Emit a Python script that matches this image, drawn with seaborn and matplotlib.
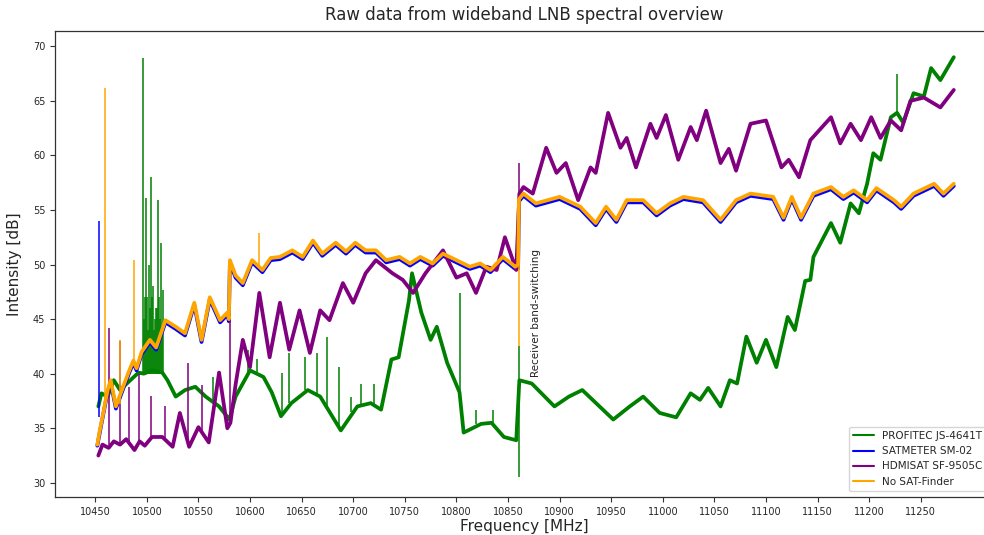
import matplotlib
matplotlib.use("Agg")
import matplotlib.pyplot as plt
import seaborn as sns
import pandas as pd

# ---------------- data ----------------
devices = ["PROFITEC JS-4641T", "SATMETER SM-02", "HDMISAT SF-9505C", "No SAT-Finder"]
colors = ["green", "blue", "purple", "orange"]

# main traces
green_freq = [10453, 10456, 10462, 10468, 10474, 10484, 10492, 10497, 10505, 10515,
              10520, 10528, 10537, 10547, 10557, 10570, 10580, 10586, 10600, 10613,
              10621, 10630, 10640, 10656, 10668, 10688, 10704, 10717, 10727, 10737,
              10744, 10754, 10757, 10766, 10775, 10781, 10791, 10803, 10807, 10824,
              10834, 10846, 10858, 10861,
              10873, 10895, 10909, 10922, 10932, 10952, 10968, 10981, 10997, 11013,
              11027, 11036, 11044, 11056, 11065, 11072, 11081, 11091, 11100, 11110,
              11121, 11128, 11138, 11143, 11146, 11163, 11172, 11182, 11190, 11198,
              11204, 11211, 11221, 11227, 11233, 11243, 11253, 11260, 11269, 11282]
green_level = [37.0, 38.2, 37.9, 39.4, 38.5, 39.4, 40.1, 40.0, 40.3, 40.1,
               39.4, 37.9, 38.5, 38.8, 37.9, 37.0, 35.8, 37.9, 40.3, 39.7,
               38.3, 36.1, 37.3, 38.5, 37.9, 34.8, 37.0, 37.3, 36.7, 41.3,
               41.5, 46.7, 49.2, 45.6, 43.1, 44.3, 41.0, 38.3, 34.6, 35.4,
               35.5, 34.2, 33.9, 39.4,
               39.1, 37.0, 37.9, 38.5, 37.6, 35.8, 37.0, 37.9, 36.4, 36.0,
               38.2, 37.6, 38.7, 37.0, 39.4, 39.1, 43.4, 41.0, 43.1, 40.6,
               45.2, 44.0, 48.5, 48.6, 50.7, 53.8, 52.0, 55.6, 54.7, 57.4,
               60.2, 59.6, 63.5, 63.9, 63.0, 65.7, 65.4, 68.0, 66.9, 69.0]

blue_freq = [10452, 10454, 10458, 10462, 10465, 10470, 10477, 10483, 10487, 10490,
             10495, 10503, 10509, 10518, 10528, 10537, 10546, 10553, 10561, 10571,
             10578, 10579.5, 10580.5, 10586, 10593, 10602, 10612, 10620, 10629, 10641,
             10651, 10661, 10670, 10683, 10693, 10702, 10712, 10722, 10732, 10745,
             10755, 10765, 10777, 10787, 10800, 10813, 10823, 10833, 10845, 10857,
             10859.8, 10860.6, 10865, 10877, 10900, 10920, 10935, 10945, 10955, 10965,
             10981, 10994, 11007, 11020, 11039, 11056, 11071, 11085, 11107, 11117,
             11125, 11134, 11146, 11163, 11175, 11185, 11198, 11207, 11224, 11231,
             11243, 11263, 11272, 11282]
blue_level = [33.4, 34.4, 36.4, 38.3, 39.2, 36.8, 38.6, 40.1, 41.0, 40.3,
              41.8, 42.9, 42.2, 44.7, 44.1, 43.5, 46.3, 42.9, 46.8, 44.7,
              45.4, 44.8, 50.2, 48.8, 48.1, 50.2, 49.3, 50.4, 50.5, 51.1,
              50.5, 52.0, 50.8, 51.8, 51.0, 51.8, 51.1, 51.1, 50.2, 50.5,
              49.9, 50.5, 49.9, 50.8, 50.2, 49.6, 49.9, 49.3, 50.5, 49.6,
              49.8, 55.8, 56.3, 55.4, 56.0, 55.1, 53.6, 55.1, 53.9, 55.7,
              55.7, 54.5, 55.4, 56.0, 55.7, 53.9, 55.7, 56.3, 56.0, 54.1,
              56.0, 54.1, 56.3, 56.9, 56.0, 56.6, 55.7, 56.8, 55.7, 55.1,
              56.3, 57.2, 56.3, 57.2]

purple_freq = [10453, 10457, 10463, 10468, 10474, 10480, 10488, 10493, 10498, 10505,
               10515, 10525, 10532, 10541, 10550, 10560, 10570, 10578, 10581,
               10586, 10593, 10600, 10609, 10619, 10629, 10638, 10648, 10658, 10668,
               10677, 10690, 10700, 10712, 10722, 10738, 10748, 10758, 10770, 10787,
               10800, 10810, 10819, 10829, 10839, 10847, 10858, 10861,
               10865, 10874, 10887, 10897, 10906, 10918, 10930, 10935, 10947, 10959,
               10965, 10974, 10988, 10994, 11003, 11015, 11027, 11033, 11042, 11056,
               11064, 11071, 11085, 11100, 11115, 11122, 11132, 11143, 11163, 11172,
               11182, 11192, 11202, 11211, 11221, 11231, 11240, 11253, 11269, 11282]
purple_level = [32.5, 33.5, 33.2, 33.8, 33.5, 34.0, 33.0, 33.8, 33.4, 34.2,
                34.2, 33.3, 36.4, 33.3, 35.1, 33.7, 40.1, 35.0, 35.5,
                39.0, 43.1, 40.6, 47.4, 41.5, 46.5, 42.2, 45.8, 41.9, 45.8,
                44.9, 48.3, 46.5, 49.2, 50.4, 49.2, 48.6, 47.4, 49.2, 51.3,
                48.8, 49.2, 47.4, 49.8, 49.5, 52.5, 49.5, 56.5,
                57.1, 56.5, 60.7, 58.4, 59.3, 55.9, 58.9, 58.4, 63.9, 60.7,
                61.6, 58.9, 62.9, 61.6, 63.7, 59.6, 62.6, 61.4, 64.1, 59.3,
                60.6, 58.6, 62.9, 63.2, 58.9, 59.6, 58.0, 61.4, 63.5, 61.1,
                62.9, 61.4, 63.5, 61.6, 63.2, 62.3, 65.0, 65.3, 64.4, 66.0]

orange_freq = [10452, 10454, 10458, 10462, 10465, 10470, 10477, 10483, 10487, 10490,
               10495, 10503, 10509, 10518, 10528, 10537, 10546, 10553, 10561, 10571,
               10578, 10579.5, 10580.5, 10586, 10593, 10602, 10612, 10620, 10629, 10641,
               10651, 10661, 10670, 10683, 10693, 10702, 10712, 10722, 10732, 10745,
               10755, 10765, 10777, 10787, 10800, 10813, 10823, 10833, 10845, 10857,
               10859.8, 10860.6, 10865, 10877, 10900, 10920, 10935, 10945, 10955, 10965,
               10981, 10994, 11007, 11020, 11039, 11056, 11071, 11085, 11107, 11117,
               11125, 11134, 11146, 11163, 11175, 11185, 11198, 11207, 11224, 11231,
               11243, 11263, 11272, 11282]
orange_level = [33.5, 34.6, 36.5, 38.5, 39.4, 37.0, 38.8, 40.3, 41.2, 40.5,
                42.0, 43.1, 42.4, 44.9, 44.3, 43.7, 46.5, 43.1, 47.0, 44.9,
                45.6, 45.0, 50.4, 49.0, 48.3, 50.4, 49.5, 50.6, 50.7, 51.3,
                50.7, 52.2, 51.0, 52.0, 51.2, 52.0, 51.3, 51.3, 50.4, 50.7,
                50.1, 50.7, 50.1, 51.0, 50.4, 49.8, 50.1, 49.5, 50.7, 49.8,
                50.0, 56.0, 56.5, 55.6, 56.2, 55.3, 53.8, 55.3, 54.1, 55.9,
                55.9, 54.7, 55.6, 56.2, 55.9, 54.1, 55.9, 56.5, 56.2, 54.3,
                56.2, 54.3, 56.5, 57.1, 56.2, 56.8, 55.9, 57.0, 55.9, 55.3,
                56.5, 57.4, 56.5, 57.4]

# narrow spikes: frequency, level at foot, level at tip
green_spike_freq = [10496.6, 10497.5, 10498.0, 10499.5, 10500.5, 10501.0, 10502.0, 10503.0,
                    10504.0, 10505.0, 10506.0, 10507.0, 10508.0, 10509.0, 10510.0, 10511.0,
                    10512.0, 10513.0, 10514.0, 10515.0, 10516.0, 10564.0, 10598.0, 10607.0,
                    10631.0, 10638.0, 10653.0, 10665.0, 10675.0, 10686.0, 10698.0, 10708.0,
                    10720.0, 10803.0, 10819.0, 10835.0, 10860.4, 11227.0]
green_spike_foot = [40.0, 40.0, 40.0, 40.0, 40.0, 40.0, 40.0, 40.0,
                    40.0, 40.0, 40.0, 40.0, 40.0, 40.0, 40.0, 40.0,
                    40.0, 40.0, 40.0, 40.0, 40.0, 37.3, 40.0, 40.0,
                    36.2, 37.3, 38.5, 38.0, 37.0, 35.0, 36.5, 37.1,
                    37.1, 38.3, 35.4, 35.4, 30.5, 63.8]
green_spike_tip = [68.9, 45.0, 47.0, 56.1, 47.0, 44.0, 50.0, 46.0,
                   58.0, 47.0, 48.0, 44.0, 45.0, 46.0, 46.0, 55.9,
                   47.0, 45.0, 52.0, 44.0, 47.7, 39.7, 42.2, 41.3,
                   40.1, 41.9, 41.5, 41.9, 43.4, 40.6, 37.9, 39.1,
                   39.1, 47.4, 36.7, 36.7, 42.5, 67.5]

blue_spike_freq = [10454.0]
blue_spike_foot = [36.0]
blue_spike_tip = [54.0]

purple_spike_freq = [10463.0, 10474.0, 10483.0, 10492.0, 10504.0, 10518.0, 10540.0,
                     10553.0, 10580.3, 10860.5]
purple_spike_foot = [33.5, 33.5, 33.5, 33.6, 34.0, 34.0, 33.5, 34.5, 35.2, 49.5]
purple_spike_tip = [44.2, 43.0, 38.8, 40.0, 38.0, 37.0, 41.0, 39.0, 48.6, 59.3]

orange_spike_freq = [10459.0, 10474.0, 10488.0, 10609.0, 10860.2]
orange_spike_foot = [37.5, 37.2, 41.2, 50.0, 42.5]
orange_spike_tip = [66.2, 43.1, 50.4, 52.9, 50.0]

x_ticks = list(range(10450, 11251, 50))
y_ticks = [30, 35, 40, 45, 50, 55, 60, 65, 70]

# ---------------- build long tables ----------------
frames = []
for name, f, v in zip(devices,
                      [green_freq, blue_freq, purple_freq, orange_freq],
                      [green_level, blue_level, purple_level, orange_level]):
    frames.append(pd.DataFrame({"Frequency": f, "Intensity": v, "Device": name}))
df = pd.concat(frames, ignore_index=True)

spikes = [
    (green_spike_freq, green_spike_foot, green_spike_tip),
    (blue_spike_freq, blue_spike_foot, blue_spike_tip),
    (purple_spike_freq, purple_spike_foot, purple_spike_tip),
    (orange_spike_freq, orange_spike_foot, orange_spike_tip),
]

# ---------------- plot ----------------
sns.set_style("ticks")
plt.rcParams["font.family"] = ["DejaVu Sans"]

fig = plt.figure(figsize=(9.84, 5.35), dpi=100)
ax = fig.add_axes([55 / 984, 38 / 535, 938 / 984, 466 / 535])

for i, name in enumerate(devices):
    sub = df[df["Device"] == name]
    f, lo, hi = spikes[i]
    ax.vlines(f, lo, hi, colors=colors[i], linewidth=1.1, zorder=2 + i)
    sns.lineplot(data=sub, x="Frequency", y="Intensity", color=colors[i],
                 estimator=None, sort=False, linewidth=2.7, ax=ax,
                 label=name, zorder=2 + i)

ax.set_xlim(10411, 11320)
ax.set_ylim(28.7, 71.4)
ax.set_xticks(x_ticks)
ax.set_yticks(y_ticks)
ax.tick_params(axis="both", labelsize=7, length=3.5, color="#333333")
for s in ax.spines.values():
    s.set_color("#333333")
    s.set_linewidth(0.9)

ax.set_title("Raw data from wideband LNB spectral overview", fontsize=12, pad=8)
ax.set_xlabel("Frequency [MHz]", fontsize=11, labelpad=2)
ax.set_ylabel("Intensity [dB]", fontsize=11, labelpad=8)

ax.text(10872, 39.7, "Receiver band-switching", rotation=90, fontsize=7.5,
        ha="left", va="bottom", color="#222222")

leg = ax.legend(loc="lower right", fontsize=7.5, frameon=True, borderaxespad=0.6)
for line in leg.get_lines():
    line.set_linewidth(1.5)

fig.savefig("out.png", dpi=100)
